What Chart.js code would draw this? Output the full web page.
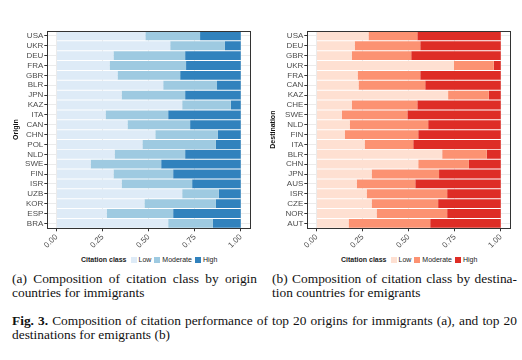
<!DOCTYPE html>
<html lang="en">
<head>
<meta charset="UTF-8">
<title>Fig. 3 citation class composition</title>
<script src="https://cdn.jsdelivr.net/npm/chart.js"></script>
<style>
  body { margin: 0; background: #fff; width: 522px; height: 360px; position: relative; overflow: hidden; }
  canvas { position: absolute; top: 0; }
  #chartA { left: 0; }
  #chartB { left: 260px; }
  .legend { position: absolute; top: 256px; font-family: "Liberation Sans", Arial, sans-serif; font-size: 7px; color: #222; white-space: nowrap; display: flex; align-items: center; }
  .legend b { margin-right: 3px; }
  .legend i { display: inline-block; width: 6px; height: 6px; margin: 0 2px 0 1px; }
  .legend span { margin-right: 2px; }
  .cap { position: absolute; font-family: "Liberation Serif", "Times New Roman", serif; font-size: 13.4px; color: #111; line-height: 14px; }
  .cap div { text-align: justify; text-align-last: justify; white-space: nowrap; }
  .cap div.last { text-align-last: left; }
</style>
</head>
<body>
<canvas id="chartA" width="260" height="250"></canvas>
<canvas id="chartB" width="262" height="250"></canvas>

<div class="legend" id="legA" style="left:81px"></div>
<div class="legend" id="legB" style="left:341px"></div>

<div class="cap" style="left:12px; top:272px; width:245px">
  <div>(a) Composition of citation class by origin</div>
  <div class="last">countries for immigrants</div>
</div>
<div class="cap" style="left:272px; top:272px; width:245px">
  <div>(b) Composition of citation class by destina-</div>
  <div class="last">tion countries for emigrants</div>
</div>
<div class="cap" style="left:12px; top:314px; width:505px">
  <div><b>Fig. 3.</b> Composition of citation performance of top 20 origins for immigrants (a), and top 20</div>
  <div class="last">destinations for emigrants (b)</div>
</div>

<script>
const classes = ['Low', 'Moderate', 'High'];
const blues = ['#deebf7', '#9ecae1', '#3182bd'];
const reds = ['#fee0d2', '#fc9272', '#de2d26'];
const xTicks = [0, 0.25, 0.5, 0.75, 1];

// (a) origins for immigrants
const originLabels = ['USA','UKR','DEU','FRA','GBR','BLR','JPN','KAZ','ITA','CAN','CHN','POL','NLD','SWE','FIN','ISR','UZB','KOR','ESP','BRA'];
const originLow  = [0.482,0.617,0.309,0.288,0.331,0.579,0.353,0.682,0.266,0.385,0.536,0.466,0.315,0.185,0.309,0.353,0.682,0.477,0.272,0.606];
const originMod  = [0.297,0.297,0.389,0.415,0.340,0.292,0.345,0.264,0.340,0.340,0.340,0.399,0.383,0.383,0.324,0.383,0.199,0.388,0.361,0.243];
const originHigh = [0.221,0.086,0.302,0.297,0.329,0.129,0.302,0.054,0.394,0.275,0.124,0.135,0.302,0.432,0.367,0.264,0.119,0.135,0.367,0.151];

// (b) destinations for emigrants
const destLabels = ['USA','DEU','GBR','UKR','FRA','CAN','KAZ','CHE','SWE','NLD','FIN','ITA','BLR','CHN','JPN','AUS','ISR','CZE','NOR','AUT'];
const destLow  = [0.282,0.207,0.191,0.746,0.223,0.228,0.714,0.191,0.137,0.180,0.153,0.261,0.682,0.552,0.299,0.218,0.272,0.299,0.326,0.174];
const destMod  = [0.265,0.356,0.323,0.216,0.340,0.362,0.221,0.356,0.356,0.426,0.399,0.264,0.242,0.275,0.366,0.318,0.437,0.361,0.383,0.443];
const destHigh = [0.453,0.437,0.486,0.038,0.437,0.410,0.065,0.453,0.507,0.394,0.448,0.475,0.076,0.173,0.335,0.464,0.291,0.340,0.291,0.383];

const SANS = '"Liberation Sans", Arial, sans-serif';

// panel border like ggplot theme_bw
const panelBorder = {
  id: 'panelBorder',
  afterDraw(chart) {
    const a = chart.chartArea, ctx = chart.ctx;
    ctx.save();
    ctx.strokeStyle = '#333';
    ctx.lineWidth = 1;
    ctx.strokeRect(Math.round(a.left) + 0.5, Math.round(a.top) + 0.5, Math.round(a.right - a.left), Math.round(a.bottom - a.top));
    ctx.restore();
  }
};

function makeChart(id, labels, series, colors, title, padLeft, yWidth, padRight) {
  const ctx = document.getElementById(id).getContext('2d');
  return new Chart(ctx, {
    type: 'bar',
    data: {
      labels: labels,
      datasets: series.map((d, i) => ({
        label: classes[i],
        data: d,
        backgroundColor: colors[i],
        borderWidth: 0,
        barPercentage: 0.9,
        categoryPercentage: 1
      }))
    },
    options: {
      indexAxis: 'y',
      responsive: false,
      animation: false,
      layout: { padding: { top: 31, left: padLeft, right: padRight, bottom: 0 } },
      plugins: { legend: { display: false }, tooltip: { enabled: false } },
      scales: {
        x: {
          stacked: true,
          min: -0.05,
          max: 1.05,
          afterBuildTicks: s => { s.ticks = xTicks.map(v => ({ value: v })); },
          afterFit: s => { s.height = 21.7; },
          grid: { color: '#ebebeb', tickColor: '#333', tickLength: 3 },
          border: { display: false },
          ticks: {
            autoSkip: false,
            minRotation: 45,
            maxRotation: 45,
            padding: 1,
            color: '#4d4d4d',
            font: { family: SANS, size: 8 },
            callback: v => Number(v).toFixed(2)
          }
        },
        y: {
          stacked: true,
          afterFit: s => { s.width = yWidth; },
          grid: { color: '#ebebeb', tickColor: '#333', tickLength: 3, offset: false },
          border: { display: false },
          ticks: { autoSkip: false, padding: 1, color: '#4d4d4d', font: { family: SANS, size: 8 } },
          title: {
            display: true,
            text: title,
            color: '#111',
            padding: 0,
            font: { family: SANS, size: 7, weight: 'bold' }
          }
        }
      }
    },
    plugins: [panelBorder]
  });
}

makeChart('chartA', originLabels, [originLow, originMod, originHigh], blues, 'Origin', 12, 35.3, 10);
makeChart('chartB', destLabels, [destLow, destMod, destHigh], reds, 'Destination', 9, 38.3, 12);

function buildLegend(id, colors) {
  const el = document.getElementById(id);
  let html = '<b>Citation class</b>';
  classes.forEach((c, i) => {
    html += '<i style="background:' + colors[i] + '"></i><span>' + c + '</span>';
  });
  el.innerHTML = html;
}
buildLegend('legA', blues);
buildLegend('legB', reds);
</script>
</body>
</html>
